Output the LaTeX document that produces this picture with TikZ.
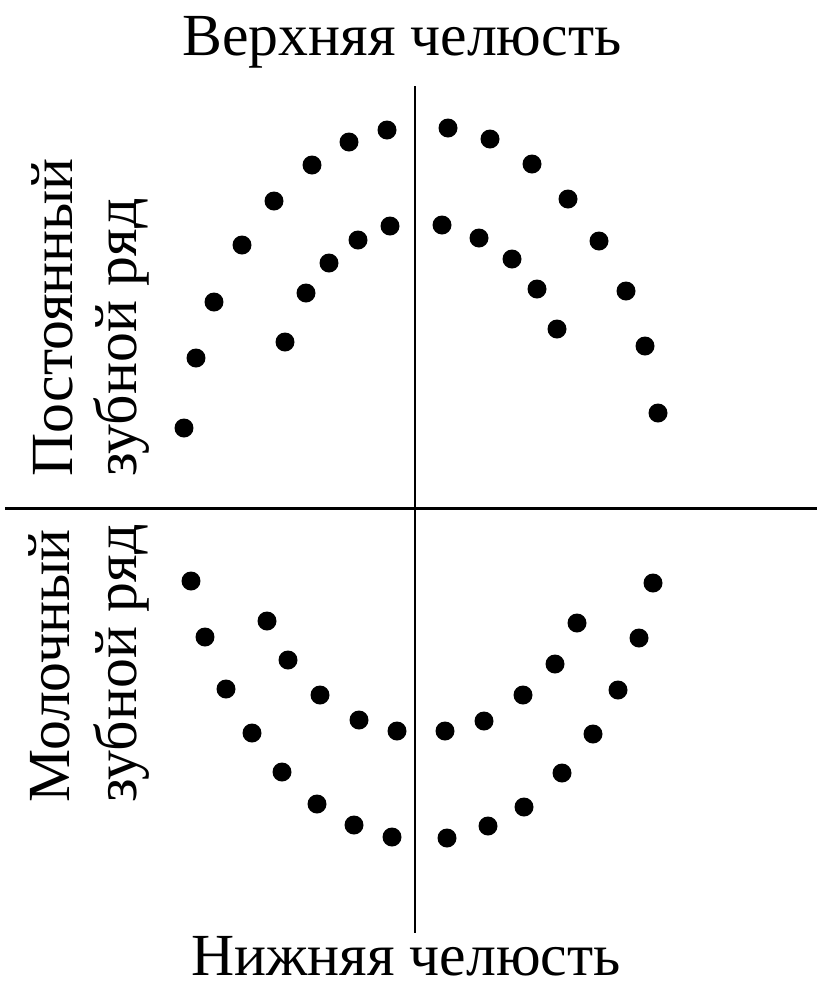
\documentclass[tikz,border=0pt]{standalone}
\usepackage{fontspec}
\setmainfont{Liberation Serif}

\begin{document}
\begin{tikzpicture}[x=0.02cm,y=-0.02cm,
  tooth/.style={fill=black},
  caption/.style={font=\fontsize{34}{40}\selectfont,inner sep=0pt},
  axis/.style={line width=1.5pt}]

\useasboundingbox (0,0) rectangle (817,988);

% ============================
% AXES
% ============================
\coordinate (up)    at (415,86);
\coordinate (down)  at (415,933);
\coordinate (left)  at (5,508);
\coordinate (right) at (817,508);

\draw[axis] (up) -- (down);
\draw[axis,line width=1.7pt] (left) -- (right);

% ============================
% CAPTIONS
% ============================
\node[caption,anchor=base] (upper) at (402,55) {Верхняя челюсть};
\node[caption,anchor=base] (lower) at (406,975) {Нижняя челюсть};

\node[caption,rotate=90,anchor=base west] (perm1) at (72,477) {Постоянный};
\node[caption,rotate=90,anchor=base west] (perm2) at (136,477) {зубной ряд};
\node[caption,rotate=90,anchor=base west] (milk1) at (70,803) {Молочный};
\node[caption,rotate=90,anchor=base west] (milk2) at (136,803) {зубной ряд};

% ============================
% UPPER JAW (permanent teeth)
% ============================
\foreach \x/\y in {184/428,196/358,214/302,242/245,274/201,312/165,349/142,387/130,
                   448/128,490/139,532/164,568/199,599/241,626/291,645/346,658/413}
  \fill[tooth] (\x,\y) circle (0.19cm);

\foreach \x/\y in {285/342,306/293,329/263,358/240,390/226,
                   442/225,479/238,512/259,537/289,557/329}
  \fill[tooth] (\x,\y) circle (0.19cm);

% ============================
% LOWER JAW (milk teeth)
% ============================
\foreach \x/\y in {191/581,205/637,226/689,252/733,282/772,317/804,354/825,392/837,
                   447/838,488/826,524/807,562/773,593/734,618/690,639/638,653/583}
  \fill[tooth] (\x,\y) circle (0.19cm);

\foreach \x/\y in {267/621,288/660,320/695,359/720,397/731,
                   445/731,484/721,523/695,555/664,577/623}
  \fill[tooth] (\x,\y) circle (0.19cm);

\end{tikzpicture}
\end{document}
